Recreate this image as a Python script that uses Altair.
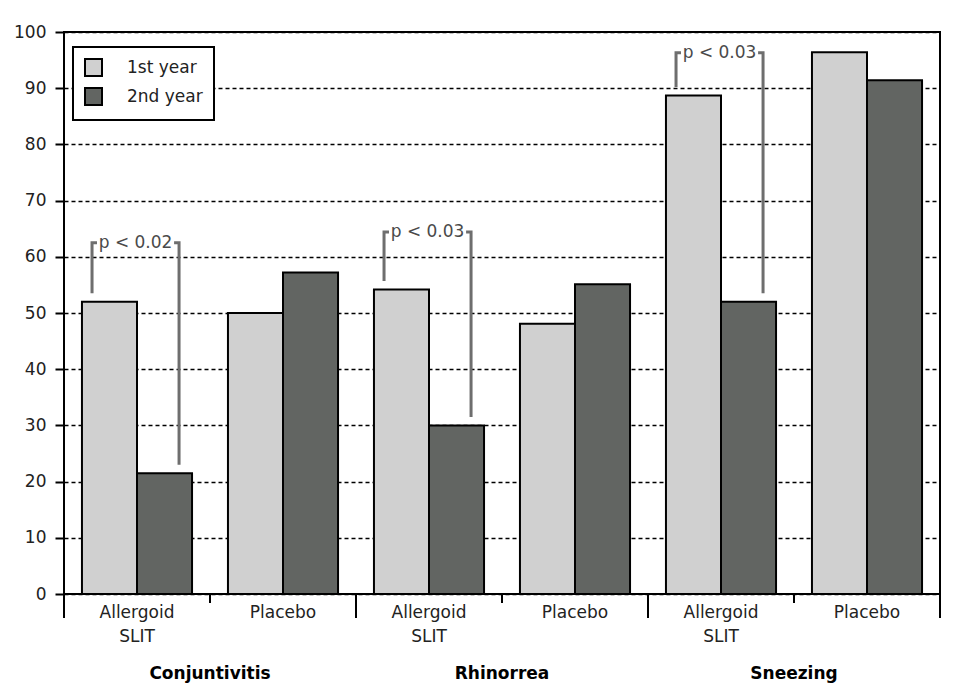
import altair as alt
import pandas as pd

# ---- data ----
sub_labels = ["Allergoid\nSLIT", "Placebo", "Allergoid\nSLIT", "Placebo", "Allergoid\nSLIT", "Placebo"]
symptoms = ["Conjuntivitis", "Rhinorrea", "Sneezing"]
years = ["1st year", "2nd year"]
first_year = [52.0, 50.0, 54.2, 48.1, 88.7, 96.4]
second_year = [21.5, 57.2, 30.0, 55.1, 52.0, 91.4]
p_labels = ["p < 0.02", "p < 0.03", "p < 0.03"]
p_groups = [0, 2, 4]
bracket_top = [62.5, 64.4, 96.3]

FONT = "DejaVu Sans"
LIGHT = "#d0d0d0"
DARK = "#626562"
BRACKET = "#6e6e6e"

# layout constants (group units along x)
PAD = 0.123
BARW = 0.377
GAP = 1.5

n = len(sub_labels)
xscale = alt.Scale(domain=[0, n], nice=False, zero=False, padding=0)
yscale = alt.Scale(domain=[0, 100], nice=False)
yaxis = alt.Axis(values=list(range(0, 101, 10)), title=None, grid=True,
                 gridDash=[4, 3], gridColor="black", gridWidth=1.5,
                 domain=False, tickColor="black", tickWidth=2, tickSize=9,
                 labelFont=FONT, labelFontSize=17, labelColor="#222",
                 labelPadding=9)

rows = []
for g in range(n):
    for k, (yr, vals) in enumerate(zip(years, [first_year, second_year])):
        x0 = g + PAD + k * BARW
        rows.append({"x": x0, "x2": x0 + BARW, "year": yr, "value": vals[g]})
bars_df = pd.DataFrame(rows)

bars = alt.Chart(bars_df).mark_bar(stroke="black", strokeWidth=2).encode(
    x=alt.X("x:Q", scale=xscale, axis=None),
    x2="x2:Q",
    y=alt.Y("value:Q", scale=yscale, axis=yaxis),
    y2=alt.datum(0),
    color=alt.Color("year:N", scale=alt.Scale(domain=years, range=[LIGHT, DARK]),
                    legend=alt.Legend(title=None)),
)

# brackets
brows = []
for i, g in enumerate(p_groups):
    xl = g + 0.192
    xr = g + 0.788
    top = bracket_top[i]
    pts_l = [(xl, first_year[g] + GAP), (xl, top), (xl + 0.034, top)]
    pts_r = [(xr - 0.034, top), (xr, top), (xr, second_year[g] + GAP)]
    for j, (px, py) in enumerate(pts_l):
        brows.append({"piece": f"{i}L", "o": j, "x": px, "value": py})
    for j, (px, py) in enumerate(pts_r):
        brows.append({"piece": f"{i}R", "o": j, "x": px, "value": py})
br_df = pd.DataFrame(brows)

brackets = alt.Chart(br_df).mark_line(color=BRACKET, strokeWidth=3, strokeCap="butt",
                                      strokeJoin="miter").encode(
    x=alt.X("x:Q", scale=xscale, axis=None),
    y=alt.Y("value:Q", scale=yscale, axis=yaxis),
    detail="piece:N",
    order="o:Q",
)

ptext_df = pd.DataFrame({"x": [g + 0.49 for g in p_groups], "value": bracket_top, "t": p_labels})
ptext = alt.Chart(ptext_df).mark_text(font=FONT, fontSize=17, color="#4a4a4a",
                                      baseline="middle").encode(
    x=alt.X("x:Q", scale=xscale, axis=None),
    y=alt.Y("value:Q", scale=yscale, axis=yaxis),
    text="t:N",
)

# group separators
long_df = pd.DataFrame({"b": list(range(0, n + 1, 2))})
short_df = pd.DataFrame({"b": list(range(1, n, 2))})
long_ticks = alt.Chart(long_df).mark_rule(color="black", strokeWidth=2).encode(
    x=alt.X("b:Q", scale=xscale, axis=None), y=alt.value(562), y2=alt.value(586))
short_ticks = alt.Chart(short_df).mark_rule(color="black", strokeWidth=2).encode(
    x=alt.X("b:Q", scale=xscale, axis=None), y=alt.value(562), y2=alt.value(571))

# group labels
sub_df = pd.DataFrame({"x": [g + 0.5 for g in range(n)], "label": sub_labels})
sub_text = alt.Chart(sub_df).mark_text(font=FONT, fontSize=17, color="#222",
                                       baseline="top", lineBreak="\n",
                                       lineHeight=24).encode(
    x=alt.X("x:Q", scale=xscale, axis=None), y=alt.value(573), text="label:N")

sym_df = pd.DataFrame({"x": [2 * i + 1 for i in range(len(symptoms))], "label": symptoms})
sym_text = alt.Chart(sym_df).mark_text(font=FONT, fontSize=17, fontWeight="bold",
                                       color="black", baseline="middle").encode(
    x=alt.X("x:Q", scale=xscale, axis=None), y=alt.value(642), text="label:N")

chart = alt.layer(bars, brackets, ptext, long_ticks, short_ticks, sub_text, sym_text).properties(
    width=876, height=562,
    autosize=alt.AutoSizeParams(type="none"),
    padding={"left": 56, "top": 24, "right": 15, "bottom": 91},
).configure_view(stroke="black", strokeWidth=2).configure_legend(
    orient="none", legendX=9, legendY=15, strokeColor="black", strokeWidth=2,
    padding=11, rowPadding=4, labelOffset=24, labelFont=FONT, labelFontSize=17,
    labelColor="#222", symbolType="square", symbolSize=289, symbolStrokeColor="black",
    symbolStrokeWidth=2, fillColor="white",
)

chart.save("out.html", embed_options={"renderer": "svg", "actions": False})
